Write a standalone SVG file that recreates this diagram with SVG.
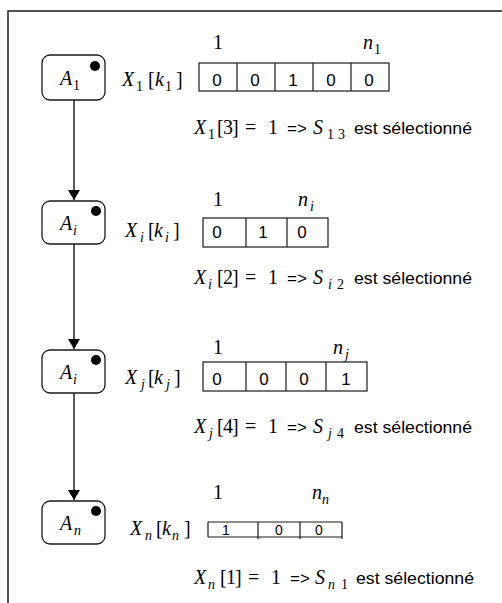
<svg xmlns="http://www.w3.org/2000/svg" width="502" height="603" viewBox="0 0 502 603">
<style>
.frame{fill:none;stroke:#1a1a1a;stroke-width:1.5}
.box{fill:#fff;stroke:#1a1a1a;stroke-width:1.3}
.dot{fill:#000}
.cell{fill:#fff;stroke:#1a1a1a;stroke-width:1.2}
.div{stroke:#1a1a1a;stroke-width:1.2;fill:none}
.conn{stroke:#000;stroke-width:1.3;fill:none}
.m{font-family:"Liberation Serif","DejaVu Serif",serif;font-size:20px;fill:#000}
.i{font-style:italic}
.sub{font-size:14px}
.s{font-family:"Liberation Sans",Arial,sans-serif;fill:#000}
.d{font-size:17px;text-anchor:middle}
.d4{font-size:14px;text-anchor:middle}
.ar{font-size:17px}
.est{font-size:17px}
</style>
<defs>
<marker id="arr" markerUnits="userSpaceOnUse" markerWidth="14" markerHeight="12" refX="10" refY="6" orient="auto">
<path d="M0,0 L10,6 L0,12 Z" fill="#000"/>
</marker>
</defs>

<path class="frame" d="M8,603 V11 H502"/>

<g id="connectors">
<line class="conn" x1="74" y1="100" x2="74" y2="200" marker-end="url(#arr)"/>
<line class="conn" x1="74" y1="244" x2="74" y2="349" marker-end="url(#arr)"/>
<line class="conn" x1="74" y1="393" x2="74" y2="500" marker-end="url(#arr)"/>
</g>

<g id="node-A1">
<rect class="box" x="42" y="55" width="63" height="45" rx="8"/>
<circle class="dot" cx="95" cy="66" r="5"/>
<text class="m"><tspan class="i" x="60" y="85">A</tspan><tspan class="sub" x="73" y="90">1</tspan></text>
</g>
<g id="node-Ai">
<rect class="box" x="42" y="201" width="63" height="43" rx="8"/>
<circle class="dot" cx="96" cy="211" r="5"/>
<text class="m"><tspan class="i" x="60" y="230">A</tspan><tspan class="sub i" x="73" y="235">i</tspan></text>
</g>
<g id="node-Aj">
<rect class="box" x="42" y="350" width="63" height="43" rx="8"/>
<circle class="dot" cx="96" cy="360" r="5"/>
<text class="m"><tspan class="i" x="60" y="379">A</tspan><tspan class="sub i" x="73" y="384">i</tspan></text>
</g>
<g id="node-An">
<rect class="box" x="42" y="501" width="63" height="43" rx="8"/>
<circle class="dot" cx="96" cy="511" r="5"/>
<text class="m"><tspan class="i" x="60" y="530">A</tspan><tspan class="sub i" x="74" y="535">n</tspan></text>
</g>

<g id="array-1">
<text class="m" x="213" y="49">1</text>
<text class="m"><tspan class="i" x="363" y="49">n</tspan><tspan class="sub" x="374" y="54">1</tspan></text>
<text class="m"><tspan class="i" x="122" y="86">X</tspan><tspan class="sub" x="136" y="91">1</tspan><tspan x="148" y="86">[</tspan><tspan class="i" x="155" y="86">k</tspan><tspan class="sub" x="165" y="91">1</tspan><tspan x="176" y="86">]</tspan></text>
<rect class="cell" x="199" y="63" width="190" height="28"/>
<path class="div" d="M237,63V91M275,63V91M313,63V91M351,63V91"/>
<text class="s d" y="86"><tspan x="217">0</tspan><tspan x="255">0</tspan><tspan x="293">1</tspan><tspan x="331">0</tspan><tspan x="369">0</tspan></text>
<text class="m"><tspan class="i" x="194" y="134">X</tspan><tspan class="sub" x="208" y="139">1</tspan><tspan x="217" y="134">[</tspan><tspan x="223" y="134">3</tspan><tspan x="232" y="134">]</tspan><tspan x="245" y="134">=</tspan><tspan x="268" y="134">1</tspan><tspan class="s ar" x="287" y="134">=&gt;</tspan><tspan class="i" x="313" y="134">S</tspan><tspan class="sub" x="327" y="139">1</tspan><tspan class="sub" x="338" y="139">3</tspan></text>
<text class="s est" x="354" y="134" textLength="118" lengthAdjust="spacingAndGlyphs">est sélectionné</text>
</g>

<g id="array-i">
<text class="m" x="213" y="206">1</text>
<text class="m"><tspan class="i" x="298" y="206">n</tspan><tspan class="sub i" x="310" y="211">i</tspan></text>
<text class="m"><tspan class="i" x="125" y="237">X</tspan><tspan class="sub i" x="140" y="242">i</tspan><tspan x="148" y="237">[</tspan><tspan class="i" x="154" y="237">k</tspan><tspan class="sub i" x="165" y="242">i</tspan><tspan x="173" y="237">]</tspan></text>
<rect class="cell" x="203" y="218" width="125" height="29"/>
<path class="div" d="M246,218V247M287,218V247"/>
<text class="s d" y="238"><tspan x="217">0</tspan><tspan x="263">1</tspan><tspan x="302">0</tspan></text>
<text class="m"><tspan class="i" x="194" y="284">X</tspan><tspan class="sub i" x="208" y="289">i</tspan><tspan x="217" y="284">[</tspan><tspan x="223" y="284">2</tspan><tspan x="232" y="284">]</tspan><tspan x="245" y="284">=</tspan><tspan x="268" y="284">1</tspan><tspan class="s ar" x="287" y="284">=&gt;</tspan><tspan class="i" x="313" y="284">S</tspan><tspan class="sub i" x="328" y="289">i</tspan><tspan class="sub" x="337" y="289">2</tspan></text>
<text class="s est" x="354" y="284" textLength="118" lengthAdjust="spacingAndGlyphs">est sélectionné</text>
</g>

<g id="array-j">
<text class="m" x="213" y="354">1</text>
<text class="m"><tspan class="i" x="333" y="354">n</tspan><tspan class="sub i" x="345" y="359">j</tspan></text>
<text class="m"><tspan class="i" x="125" y="384">X</tspan><tspan class="sub i" x="141" y="389">j</tspan><tspan x="148" y="384">[</tspan><tspan class="i" x="154" y="384">k</tspan><tspan class="sub i" x="166" y="389">j</tspan><tspan x="174" y="384">]</tspan></text>
<rect class="cell" x="203" y="362" width="164" height="29"/>
<path class="div" d="M246,362V391M286,362V391M326,362V391"/>
<text class="s d" y="385"><tspan x="217">0</tspan><tspan x="264">0</tspan><tspan x="304">0</tspan><tspan x="346">1</tspan></text>
<text class="m"><tspan class="i" x="194" y="433">X</tspan><tspan class="sub i" x="209" y="438">j</tspan><tspan x="217" y="433">[</tspan><tspan x="223" y="433">4</tspan><tspan x="232" y="433">]</tspan><tspan x="245" y="433">=</tspan><tspan x="268" y="433">1</tspan><tspan class="s ar" x="287" y="433">=&gt;</tspan><tspan class="i" x="313" y="433">S</tspan><tspan class="sub i" x="328" y="438">j</tspan><tspan class="sub" x="337" y="438">4</tspan></text>
<text class="s est" x="354" y="433" textLength="118" lengthAdjust="spacingAndGlyphs">est sélectionné</text>
</g>

<g id="array-n">
<text class="m" x="213" y="499">1</text>
<text class="m"><tspan class="i" x="312" y="499">n</tspan><tspan class="sub i" x="322" y="504">n</tspan></text>
<text class="m"><tspan class="i" x="130" y="535">X</tspan><tspan class="sub i" x="145" y="540">n</tspan><tspan x="156" y="535">[</tspan><tspan class="i" x="162" y="535">k</tspan><tspan class="sub i" x="172" y="540">n</tspan><tspan x="184" y="535">]</tspan></text>
<path class="div" d="M208,522H342M208,537H342M208,522V537M258,522V539M300,522V539M342,522V539"/>
<text class="s d4" y="535"><tspan x="226">1</tspan><tspan x="279">0</tspan><tspan x="319">0</tspan></text>
<text class="m"><tspan class="i" x="194" y="584">X</tspan><tspan class="sub i" x="208" y="589">n</tspan><tspan x="220" y="584">[</tspan><tspan x="226" y="584">1</tspan><tspan x="235" y="584">]</tspan><tspan x="248" y="584">=</tspan><tspan x="271" y="584">1</tspan><tspan class="s ar" x="290" y="584">=&gt;</tspan><tspan class="i" x="315" y="584">S</tspan><tspan class="sub i" x="328" y="589">n</tspan><tspan class="sub" x="341" y="589">1</tspan></text>
<text class="s est" x="356" y="584" textLength="118" lengthAdjust="spacingAndGlyphs">est sélectionné</text>
</g>
</svg>
